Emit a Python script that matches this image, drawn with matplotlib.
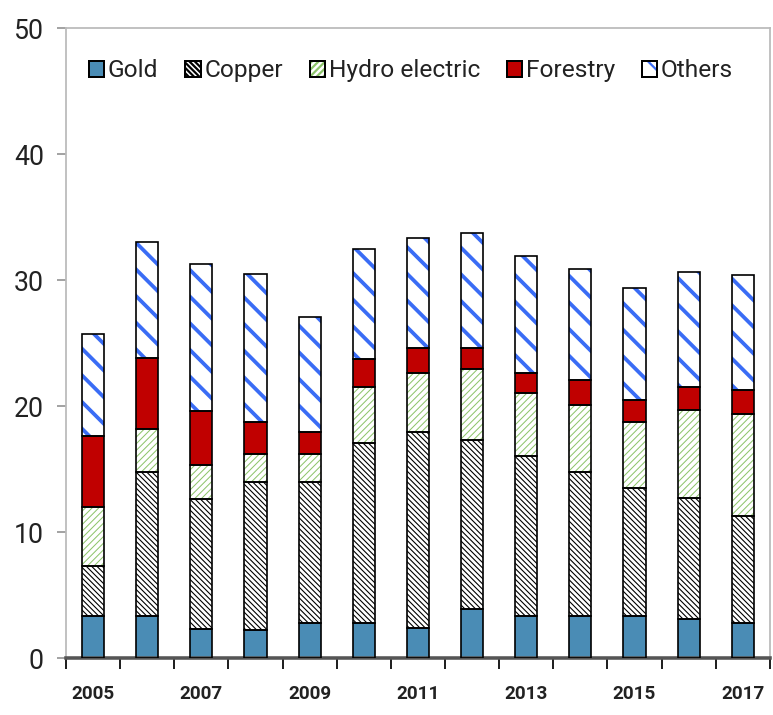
import matplotlib
matplotlib.use('Agg')
import matplotlib.pyplot as plt
from matplotlib.patches import Patch
import numpy as np

years = [2005, 2006, 2007, 2008, 2009, 2010, 2011, 2012, 2013, 2014, 2015, 2016, 2017]
gold = [3.3, 3.3, 2.3, 2.2, 2.8, 2.8, 2.4, 3.9, 3.3, 3.3, 3.3, 3.1, 2.8]
copper = [4.0, 11.5, 10.3, 11.8, 11.2, 14.3, 15.5, 13.4, 12.7, 11.5, 10.2, 9.6, 8.5]
hydro = [4.7, 3.4, 2.7, 2.2, 2.2, 4.4, 4.7, 5.6, 5.0, 5.3, 5.2, 7.0, 8.1]
forestry = [5.6, 5.6, 4.3, 2.5, 1.7, 2.2, 2.0, 1.7, 1.6, 2.0, 1.8, 1.8, 1.9]
others = [8.1, 9.2, 11.7, 11.8, 9.2, 8.8, 8.7, 9.1, 9.3, 8.8, 8.9, 9.1, 9.1]

labels = ['Gold', 'Copper', 'Hydro electric', 'Forestry', 'Others']
# face colour, hatch colour, hatch pattern, hatch line width
styles = [
    ('#4a8cb5', '#4a8cb5', None, 0.5),
    ('white', 'black', '\\' * 10, 0.5),
    ('white', '#8cc46a', '/' * 8, 0.45),
    ('#c00000', '#c00000', None, 0.5),
    ('white', '#3a6cf5', '\\' * 2, 1.7),
]

plt.rcParams['font.family'] = ['Roboto', 'DejaVu Sans']

DPI = 160
fig = plt.figure(figsize=(773 / DPI, 715 / DPI), dpi=DPI)
ax = fig.add_axes([0.0854, 0.0797, 0.9106, 0.8811])

x = np.arange(len(years))
width = 0.41
bottom = np.zeros(len(years))
handles = []
for series, label, (fc, hc, hatch, hlw) in zip(
        [gold, copper, hydro, forestry, others], labels, styles):
    vals = np.array(series)
    # fill + coloured hatch first, then a black outline on top
    with plt.rc_context({'hatch.linewidth': hlw}):
        fill = ax.bar(x, vals, width, bottom=bottom, color=fc, edgecolor=hc,
                      hatch=hatch, linewidth=0, zorder=2)
        for p in fill:
            if hasattr(p, 'set_hatch_linewidth'):
                p.set_hatch_linewidth(hlw)
        ax.bar(x, vals, width, bottom=bottom, fill=False, edgecolor='black',
               linewidth=0.75, zorder=3)
        hp = Patch(facecolor=fc, edgecolor=hc, hatch=hatch, linewidth=0)
        if hasattr(hp, 'set_hatch_linewidth'):
            hp.set_hatch_linewidth(hlw)
    op = Patch(fill=False, edgecolor='black', linewidth=0.9)
    handles.append((hp, op))
    bottom += vals

ax.set_xlim(-0.5, len(years) - 0.5)
ax.set_ylim(0, 50)

ax.set_yticks(np.arange(0, 51, 10))
ax.tick_params(axis='y', direction='out', length=4, width=0.8, color='#999999',
               labelsize=12, labelcolor='#222222', pad=6)

# year labels every other bar, tick marks between bars
ax.set_xticks(x[::2])
ax.set_xticklabels([str(y) for y in years[::2]], fontsize=8.5,
                   fontweight='bold', color='#222222')
ax.tick_params(axis='x', length=0, pad=12)
ax.set_xticks(np.arange(-0.5, len(years), 1), minor=True)
ax.tick_params(axis='x', which='minor', direction='out', length=5, width=0.9,
               color='#222222')

for side in ['left', 'top', 'right']:
    ax.spines[side].set_color('#bbbbbb')
    ax.spines[side].set_linewidth(0.8)
ax.spines['bottom'].set_color('#555555')
ax.spines['bottom'].set_linewidth(1.6)

ax.legend(handles, labels, loc='upper center', bbox_to_anchor=(0.49, 0.985),
          ncol=5, frameon=False, fontsize=11, handlelength=0.62,
          handleheight=0.62, handletextpad=0.15, columnspacing=1.1,
          labelcolor='#222222')

fig.savefig('out.png', dpi=DPI)
